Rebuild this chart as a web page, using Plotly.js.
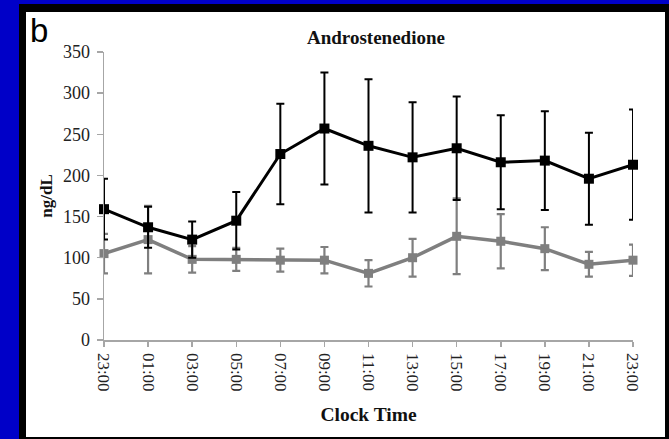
<!DOCTYPE html>
<html>
<head>
<meta charset="utf-8">
<script src="https://cdn.plot.ly/plotly-3.0.1.min.js"></script>
<style>
  html, body { margin:0; padding:0; width:669px; height:439px; overflow:hidden; background:#0000c8; }
  #frame { position:absolute; left:19px; top:4px; width:650px; height:435px; background:#000; }
  #inner { position:absolute; left:26px; top:12px; width:639px; height:425px; background:#fff; }
  #chart { position:absolute; left:0; top:0; width:669px; height:439px; }
</style>
</head>
<body>
<div id="frame"></div>
<div id="inner"></div>
<div id="chart"></div>
<script>
const timeLabels = ["23:00","01:00","03:00","05:00","07:00","09:00","11:00","13:00","15:00","17:00","19:00","21:00","23:00"];
const blackMean = [159, 137, 122, 145, 226, 257, 236, 222, 233, 216, 218, 196, 213];
const blackErr  = [37, 25, 22, 35, 61, 68, 81, 67, 63, 57, 60, 56, 67];
const grayMean  = [105, 122, 98, 98, 97, 97, 81, 100, 126, 120, 111, 92, 97];
const grayErr   = [24, 41, 16, 14, 14, 16, 16, 23, 46, 33, 26, 15, 19];
const yTicks = [0, 50, 100, 150, 200, 250, 300, 350];

const xIdx = timeLabels.map((_, i) => i);
const serif = "Liberation Serif, Times New Roman, serif";

const traces = [
  {
    x: xIdx, y: grayMean, type: 'scatter', mode: 'lines+markers',
    cliponaxis: false,
    line: {color:'#7f7f7f', width:3.5},
    marker: {symbol:'square', size:9, color:'#7f7f7f'},
    error_y: {type:'data', array: grayErr, visible:true, color:'#7f7f7f', thickness:2.2, width:4},
    hoverinfo:'skip'
  },
  {
    x: xIdx, y: blackMean, type: 'scatter', mode: 'lines+markers',
    cliponaxis: false,
    line: {color:'#000000', width:3},
    marker: {symbol:'square', size:10, color:'#000000'},
    error_y: {type:'data', array: blackErr, visible:true, color:'#000000', thickness:2, width:4},
    hoverinfo:'skip'
  }
];

const layout = {
  width: 669, height: 439,
  margin: {l:104, r:36, t:52, b:99},
  paper_bgcolor: 'rgba(0,0,0,0)',
  plot_bgcolor: 'rgba(0,0,0,0)',
  showlegend: false,
  title: {
    text: 'Androstenedione',
    font: {family: serif, size: 19, color:'#111', weight: 'bold'},
    x: 376/669, xref: 'container', xanchor: 'center',
    y: 1 - 37/439, yref: 'container', yanchor: 'middle'
  },
  xaxis: {
    range: [0, 12],
    tickmode: 'array', tickvals: xIdx, ticktext: timeLabels,
    tickangle: 90,
    showgrid: false, zeroline: false,
    showline: true, linecolor: '#a6a6a6', linewidth: 1.5,
    ticks: 'outside', ticklen: 5, tickcolor: '#a6a6a6', tickwidth: 1.5,
    ticklabelstandoff: 3,
    tickfont: {family: serif, size: 17, color:'#222'},
    title: {text: 'Clock Time', font: {family: serif, size: 19.5, color:'#111', weight:'bold'}, standoff: 16},
    automargin: false
  },
  yaxis: {
    range: [0, 350],
    tickmode: 'array', tickvals: yTicks,
    showgrid: false, zeroline: false,
    showline: true, linecolor: '#a6a6a6', linewidth: 1.5,
    ticks: 'outside', ticklen: 6, tickcolor: '#a6a6a6', tickwidth: 1.5,
    ticklabelstandoff: 3,
    tickfont: {family: serif, size: 18, color:'#222'},
    title: {text: 'ng/dL', font: {family: serif, size: 17, color:'#111', weight:'bold'}, standoff: 6},
    automargin: false
  },
  annotations: [
    {
      text: 'b', xref: 'paper', yref: 'paper',
      x: (28 - 104)/529, y: 1 + (52 - 10)/288,
      xanchor: 'left', yanchor: 'top', showarrow: false,
      font: {family: 'Liberation Sans, Arial, sans-serif', size: 33, color:'#000'}
    }
  ]
};

Plotly.newPlot('chart', traces, layout, {staticPlot: true, displayModeBar: false});
</script>
</body>
</html>
